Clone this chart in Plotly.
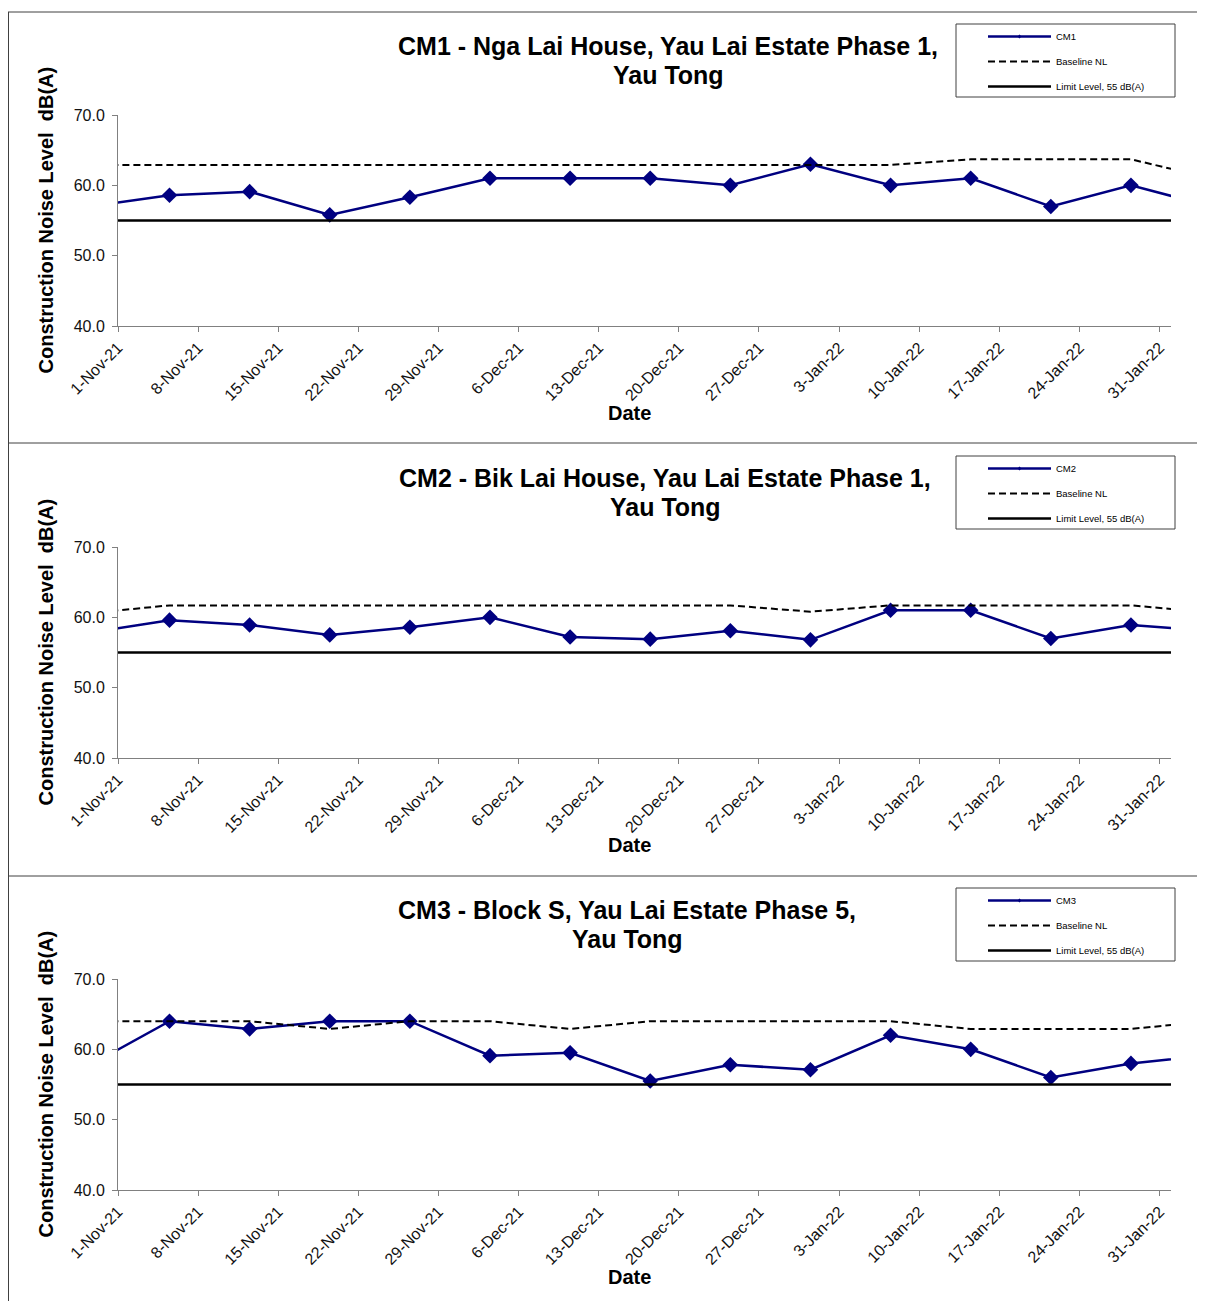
import pandas as pd
import plotly.graph_objects as go

# ---------------- data ----------------
dates = ["2021-10-29", "2021-11-05", "2021-11-12", "2021-11-19", "2021-11-26",
         "2021-12-03", "2021-12-10", "2021-12-17", "2021-12-24", "2021-12-31",
         "2022-01-07", "2022-01-14", "2022-01-21", "2022-01-28", "2022-02-04"]

cm1 = [57.0, 58.6, 59.1, 55.8, 58.3, 61.0, 61.0, 61.0, 60.0, 63.0, 60.0, 61.0, 57.0, 60.0, 57.0]
base1 = [62.9, 62.9, 62.9, 62.9, 62.9, 62.9, 62.9, 62.9, 62.9, 62.9, 62.9, 63.7, 63.7, 63.7, 61.0]

cm2 = [57.8, 59.6, 58.9, 57.5, 58.6, 60.0, 57.2, 56.9, 58.1, 56.8, 61.0, 61.0, 57.0, 58.9, 58.1]
base2 = [60.6, 61.7, 61.7, 61.7, 61.7, 61.7, 61.7, 61.7, 61.7, 60.8, 61.7, 61.7, 61.7, 61.7, 60.7]

cm3 = [57.7, 64.0, 62.9, 64.0, 64.0, 59.1, 59.5, 55.5, 57.8, 57.1, 62.0, 60.0, 56.0, 58.0, 59.2]
base3 = [64.0, 64.0, 64.0, 62.9, 64.0, 64.0, 62.9, 64.0, 64.0, 64.0, 64.0, 62.9, 62.9, 62.9, 64.0]

limit = [55.0] * len(dates)

stations = ["CM1", "CM2", "CM3"]
title_line1 = ["CM1 - Nga Lai House, Yau Lai Estate Phase 1,",
               "CM2 - Bik Lai House, Yau Lai Estate Phase 1,",
               "CM3 - Block S, Yau Lai Estate Phase 5,"]
title_line2 = ["Yau Tong", "Yau Tong", "Yau Tong"]
series = [cm1, cm2, cm3]
baselines = [base1, base2, base3]

y_ticks = [40, 50, 60, 70]
x_start, x_end = "2021-11-01", "2022-02-01"

# ---------------- layout geometry ----------------
OFF = 8                       # page body margin added by the browser
W, H = 1205 - OFF, 1301 - OFF
FONT = "Arial, Liberation Sans, sans-serif"
plot_left, plot_right = 118, 1171
panel_plot_tops = [115, 547, 979]
plot_h = 211
title_cx = [668, 665, 627]
title_cy = [46, 478, 910]
legend_tops = [24, 456, 888]

# Excel date axis places each daily point at the middle of its day slot
x_vals = pd.to_datetime(dates) + pd.Timedelta(hours=12)

fig = go.Figure()
layout = dict(
    width=W, height=H, margin=dict(l=0, r=0, t=0, b=0, autoexpand=False),
    paper_bgcolor="white", plot_bgcolor="white",
    font=dict(family=FONT, color="#000000"),
    shapes=[], annotations=[],
)

def px(x):
    return (x - OFF) / W

def py(y):
    return 1 - (y - OFF) / H

for i in range(3):
    n = "" if i == 0 else str(i + 1)
    xa, ya = "x" + n, "y" + n
    leg = "legend" + n
    top = panel_plot_tops[i]
    # station line (legend shows it with a tiny marker, as in the original)
    fig.add_trace(go.Scatter(
        x=x_vals, y=series[i], mode="lines+markers", name=stations[i],
        line=dict(color="#000080", width=2.5),
        marker=dict(symbol="diamond", size=3, color="#000080"),
        xaxis=xa, yaxis=ya, legend=leg, legendgroup=f"a{i}"))
    # station diamond markers
    fig.add_trace(go.Scatter(
        x=x_vals, y=series[i], mode="markers", name=stations[i],
        marker=dict(symbol="diamond", size=12, color="#000080"),
        xaxis=xa, yaxis=ya, showlegend=False, legendgroup=f"a{i}"))
    fig.add_trace(go.Scatter(
        x=x_vals, y=baselines[i], mode="lines", name="Baseline NL",
        line=dict(color="#000000", width=2, dash="7px,4px"),
        xaxis=xa, yaxis=ya, legend=leg, legendgroup=f"b{i}"))
    fig.add_trace(go.Scatter(
        x=x_vals, y=limit, mode="lines", name="Limit Level, 55 dB(A)",
        line=dict(color="#000000", width=2.5),
        xaxis=xa, yaxis=ya, legend=leg, legendgroup=f"c{i}"))

    layout["xaxis" + n] = dict(
        domain=[px(plot_left), px(plot_right)], anchor=ya, automargin=False,
        type="date", range=[x_start, x_end],
        tick0=x_start, dtick=7 * 86400000, tickformat="%-d-%b-%y",
        tickangle=-45, ticks="outside", ticklen=5, tickcolor="#808080",
        showline=True, linecolor="#808080", linewidth=1, showgrid=False,
        zeroline=False, tickfont=dict(family=FONT, size=16, color="#111111"))
    layout["yaxis" + n] = dict(
        domain=[py(top + plot_h), py(top)], anchor=xa, automargin=False,
        range=[40, 70], tickvals=y_ticks, tickformat=".1f",
        ticks="outside", ticklen=5, tickcolor="#808080", ticklabelstandoff=4,
        showline=True, linecolor="#808080", linewidth=1, showgrid=False,
        zeroline=False, tickfont=dict(family=FONT, size=16, color="#111111"))

    # legend
    layout[leg] = dict(
        x=px(983), y=py(legend_tops[i] - 2), xanchor="left", yanchor="top",
        bgcolor="rgba(0,0,0,0)", borderwidth=0, itemwidth=63,
        tracegroupgap=6, font=dict(family=FONT, size=9.5, color="#000000"))
    layout["shapes"].append(dict(
        type="rect", xref="paper", yref="paper",
        x0=px(956), x1=px(1175), y0=py(legend_tops[i]), y1=py(legend_tops[i] + 73),
        line=dict(color="#404040", width=1), fillcolor="rgba(0,0,0,0)", layer="below"))

    # title (two lines, Excel-like line spacing)
    for txt, dy in [(title_line1[i], 0), (title_line2[i], 29)]:
        layout["annotations"].append(dict(
            text="<b>" + txt + "</b>", xref="paper", yref="paper",
            x=px(title_cx[i]), y=py(title_cy[i] + dy), xanchor="center", yanchor="middle",
            showarrow=False, font=dict(family=FONT, size=25, color="#000000")))
    # y-axis title
    layout["annotations"].append(dict(
        text="<b>Construction Noise Level  dB(A)</b>", xref="paper", yref="paper",
        x=px(45), y=py(top + plot_h / 2), xanchor="center", yanchor="middle",
        textangle=-90, showarrow=False,
        font=dict(family=FONT, size=20, color="#000000")))
    # x-axis title
    layout["annotations"].append(dict(
        text="<b>Date</b>", xref="paper", yref="paper",
        x=px(629), y=py(top + 298), xanchor="center", yanchor="middle",
        showarrow=False, font=dict(family=FONT, size=20, color="#000000")))

# panel frames
layout["shapes"].append(dict(type="line", xref="paper", yref="paper",
                             x0=px(8), x1=1.01, y0=py(12), y1=py(12),
                             line=dict(color="#404040", width=1)))
layout["shapes"].append(dict(type="line", xref="paper", yref="paper",
                             x0=px(8.5), x1=px(8.5), y0=py(12), y1=-0.01,
                             line=dict(color="#404040", width=1)))
for yy in [443, 876]:
    layout["shapes"].append(dict(type="line", xref="paper", yref="paper",
                                 x0=px(8), x1=1.01, y0=py(yy), y1=py(yy),
                                 line=dict(color="#404040", width=1)))

fig.update_layout(**layout)
fig.write_html("out.html")
